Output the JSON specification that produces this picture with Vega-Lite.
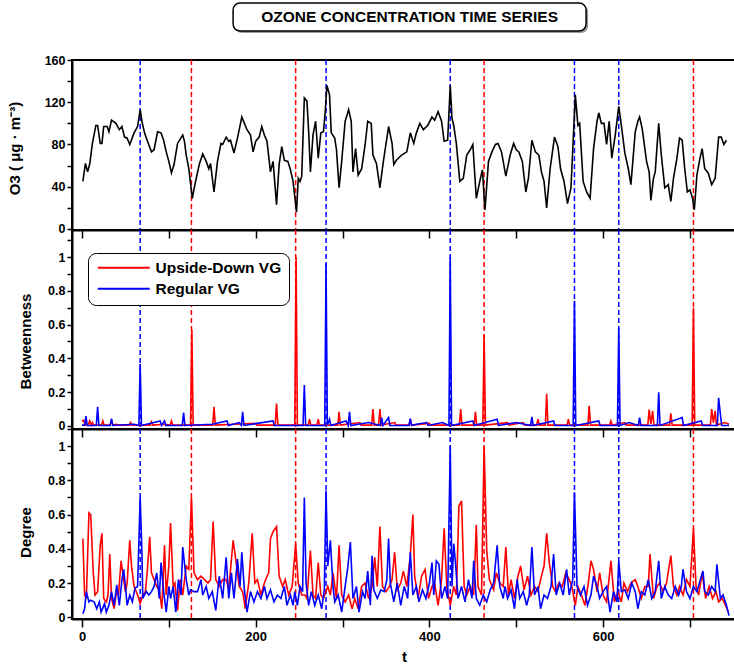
{
  "$schema": "https://vega.github.io/schema/vega-lite/v6.json",
  "padding": {"left": 6, "top": 2, "right": 0, "bottom": 0},
  "background": "white",
  "spacing": 0,
  "bounds": "flush",
  "datasets": {
    "titletext": [{"title": "OZONE CONCENTRATION TIME SERIES"}],
    "peaksBlue": [{"t": 67}, {"t": 281}, {"t": 424}, {"t": 567}, {"t": 618}],
    "peaksRed": [{"t": 126}, {"t": 246}, {"t": 463}, {"t": 704}],
    "o3": [
      {"t":1,"v":45},{"t":4,"v":62},{"t":6.5,"v":54},{"t":9,"v":62},{"t":12,"v":81},{"t":16,"v":98},{"t":18,"v":98},{"t":21,"v":81},{"t":23,"v":81},{"t":25,"v":97},{"t":29,"v":97},{"t":31,"v":92},{"t":34,"v":103},{"t":39,"v":100},{"t":43,"v":94},{"t":46,"v":97},{"t":49,"v":87},{"t":52,"v":86},{"t":55,"v":80},{"t":60,"v":91},{"t":64,"v":97},{"t":67,"v":113},{"t":69,"v":102},{"t":72,"v":91},{"t":75,"v":84},{"t":80,"v":73},{"t":83,"v":75},{"t":87,"v":92},{"t":91,"v":91},{"t":94,"v":84},{"t":97,"v":73},{"t":100,"v":64},{"t":103,"v":53},{"t":106,"v":61},{"t":110,"v":81},{"t":116,"v":89},{"t":118,"v":83},{"t":120,"v":70},{"t":123,"v":57},{"t":127,"v":29},{"t":130,"v":42},{"t":135,"v":61},{"t":139,"v":71},{"t":143,"v":64},{"t":146,"v":57},{"t":148,"v":62},{"t":152,"v":35},{"t":156,"v":64},{"t":160,"v":81},{"t":162,"v":80},{"t":166,"v":87},{"t":169,"v":83},{"t":171,"v":84},{"t":175,"v":72},{"t":179,"v":86},{"t":184,"v":106},{"t":187,"v":100},{"t":190,"v":94},{"t":194,"v":89},{"t":197,"v":73},{"t":200,"v":83},{"t":204,"v":87},{"t":207,"v":97},{"t":210,"v":89},{"t":213,"v":83},{"t":217,"v":54},{"t":220,"v":64},{"t":224,"v":23},{"t":227,"v":61},{"t":230,"v":78},{"t":233,"v":65},{"t":237,"v":64},{"t":240,"v":56},{"t":243,"v":45},{"t":247,"v":16},{"t":249,"v":48},{"t":251,"v":45},{"t":253,"v":50},{"t":256,"v":124},{"t":259,"v":121},{"t":261,"v":92},{"t":263,"v":54},{"t":266,"v":89},{"t":269,"v":102},{"t":272,"v":67},{"t":275,"v":91},{"t":278,"v":92},{"t":280,"v":110},{"t":282,"v":136},{"t":285,"v":127},{"t":287,"v":91},{"t":291,"v":86},{"t":293,"v":75},{"t":296,"v":39},{"t":299,"v":64},{"t":303,"v":102},{"t":307,"v":113},{"t":310,"v":102},{"t":312,"v":54},{"t":315,"v":76},{"t":318,"v":51},{"t":322,"v":57},{"t":326,"v":80},{"t":329,"v":102},{"t":333,"v":100},{"t":335,"v":70},{"t":339,"v":62},{"t":343,"v":39},{"t":347,"v":64},{"t":353,"v":97},{"t":357,"v":81},{"t":359,"v":61},{"t":362,"v":65},{"t":368,"v":70},{"t":374,"v":73},{"t":378,"v":91},{"t":382,"v":81},{"t":385,"v":91},{"t":389,"v":100},{"t":393,"v":94},{"t":398,"v":98},{"t":403,"v":106},{"t":406,"v":103},{"t":410,"v":111},{"t":414,"v":102},{"t":417,"v":83},{"t":421,"v":84},{"t":424,"v":136},{"t":426,"v":105},{"t":428,"v":98},{"t":431,"v":81},{"t":435,"v":45},{"t":439,"v":48},{"t":443,"v":70},{"t":447,"v":75},{"t":450,"v":80},{"t":454,"v":29},{"t":458,"v":45},{"t":461,"v":56},{"t":464,"v":18},{"t":468,"v":64},{"t":472,"v":73},{"t":476,"v":80},{"t":479,"v":81},{"t":483,"v":73},{"t":488,"v":50},{"t":493,"v":70},{"t":497,"v":81},{"t":500,"v":75},{"t":503,"v":73},{"t":507,"v":64},{"t":511,"v":35},{"t":514,"v":48},{"t":518,"v":84},{"t":522,"v":73},{"t":526,"v":70},{"t":529,"v":54},{"t":532,"v":45},{"t":535,"v":20},{"t":539,"v":57},{"t":544,"v":87},{"t":548,"v":78},{"t":551,"v":57},{"t":555,"v":45},{"t":559,"v":24},{"t":563,"v":39},{"t":568,"v":127},{"t":571,"v":98},{"t":573,"v":100},{"t":577,"v":45},{"t":581,"v":35},{"t":585,"v":29},{"t":589,"v":76},{"t":593,"v":102},{"t":595,"v":110},{"t":598,"v":100},{"t":601,"v":100},{"t":604,"v":80},{"t":607,"v":102},{"t":610,"v":67},{"t":614,"v":89},{"t":618,"v":116},{"t":621,"v":98},{"t":625,"v":72},{"t":629,"v":57},{"t":632,"v":42},{"t":637,"v":92},{"t":640,"v":102},{"t":642,"v":106},{"t":645,"v":95},{"t":650,"v":64},{"t":653,"v":54},{"t":655,"v":27},{"t":658,"v":48},{"t":660,"v":54},{"t":664,"v":100},{"t":667,"v":70},{"t":671,"v":39},{"t":675,"v":42},{"t":678,"v":26},{"t":681,"v":48},{"t":685,"v":67},{"t":688,"v":86},{"t":691,"v":84},{"t":694,"v":57},{"t":697,"v":35},{"t":700,"v":37},{"t":703,"v":29},{"t":705,"v":18},{"t":708,"v":51},{"t":711,"v":65},{"t":714,"v":76},{"t":717,"v":57},{"t":721,"v":53},{"t":725,"v":42},{"t":729,"v":48},{"t":733,"v":87},{"t":736,"v":87},{"t":739,"v":80},{"t":742,"v":84}
    ],
    "btwRed": [
      {"t":0,"v":0.03},{"t":2,"v":0.034},{"t":3.5,"v":0.005},{"t":5,"v":0.01},{"t":7,"v":0.005},{"t":9,"v":0.03},{"t":10.5,"v":0.005},{"t":12,"v":0.02},{"t":13.5,"v":0.005},{"t":22.5,"v":0.005},{"t":24,"v":0.03},{"t":25.5,"v":0.005},{"t":32.5,"v":0.005},{"t":34,"v":0.035},{"t":35.5,"v":0.005},{"t":40,"v":0.01},{"t":41.5,"v":0.005},{"t":54.5,"v":0.005},{"t":56,"v":0.02},{"t":57.5,"v":0.005},{"t":78.5,"v":0.005},{"t":80,"v":0.025},{"t":81.5,"v":0.005},{"t":95,"v":0.01},{"t":101.5,"v":0.005},{"t":103,"v":0.03},{"t":104.5,"v":0.005},{"t":125,"v":0.005},{"t":126.5,"v":0.57},{"t":128,"v":0.005},{"t":150.5,"v":0.005},{"t":152,"v":0.113},{"t":153.5,"v":0.005},{"t":175,"v":0.01},{"t":200,"v":0.015},{"t":201.5,"v":0.005},{"t":222.5,"v":0.005},{"t":224,"v":0.133},{"t":225.5,"v":0.005},{"t":245,"v":0.005},{"t":246.5,"v":1.0},{"t":248,"v":0.005},{"t":260.5,"v":0.005},{"t":262,"v":0.04},{"t":263.5,"v":0.005},{"t":270.5,"v":0.005},{"t":272,"v":0.04},{"t":273.5,"v":0.005},{"t":294.5,"v":0.005},{"t":296,"v":0.083},{"t":297.5,"v":0.005},{"t":320,"v":0.02},{"t":321.5,"v":0.005},{"t":333.5,"v":0.005},{"t":335,"v":0.1},{"t":336.5,"v":0.005},{"t":341.5,"v":0.005},{"t":343,"v":0.1},{"t":344.5,"v":0.005},{"t":360,"v":0.02},{"t":361.5,"v":0.005},{"t":376.5,"v":0.005},{"t":378,"v":0.04},{"t":379.5,"v":0.005},{"t":400,"v":0.015},{"t":401.5,"v":0.005},{"t":434.5,"v":0.005},{"t":436,"v":0.1},{"t":437.5,"v":0.005},{"t":451.5,"v":0.005},{"t":453,"v":0.083},{"t":454.5,"v":0.005},{"t":461.5,"v":0.005},{"t":463,"v":0.54},{"t":464.5,"v":0.005},{"t":490,"v":0.02},{"t":491.5,"v":0.005},{"t":508,"v":0.02},{"t":509.5,"v":0.005},{"t":523.5,"v":0.005},{"t":525,"v":0.04},{"t":526.5,"v":0.005},{"t":533.5,"v":0.005},{"t":535,"v":0.19},{"t":536.5,"v":0.005},{"t":558.5,"v":0.005},{"t":560,"v":0.04},{"t":561.5,"v":0.005},{"t":582.5,"v":0.005},{"t":584,"v":0.12},{"t":585.5,"v":0.005},{"t":607.5,"v":0.005},{"t":609,"v":0.03},{"t":610.5,"v":0.005},{"t":625,"v":0.02},{"t":626.5,"v":0.005},{"t":651.5,"v":0.005},{"t":653,"v":0.097},{"t":655,"v":0.01},{"t":657,"v":0.09},{"t":658.5,"v":0.005},{"t":676.5,"v":0.005},{"t":678,"v":0.075},{"t":679.5,"v":0.005},{"t":702.5,"v":0.005},{"t":704,"v":0.7},{"t":705.5,"v":0.005},{"t":723.5,"v":0.005},{"t":725,"v":0.1},{"t":727,"v":0.02},{"t":729,"v":0.09},{"t":730.5,"v":0.005},{"t":740,"v":0.02},{"t":745,"v":0.01}
    ],
    "btwBlue": [
      {"t":0,"v":0.005},{"t":3,"v":0.005},{"t":4.6,"v":0.058},{"t":6,"v":0.003},{"t":16.5,"v":0.003},{"t":18,"v":0.113},{"t":19.5,"v":0.003},{"t":32.5,"v":0.003},{"t":34,"v":0.044},{"t":35.5,"v":0.003},{"t":60,"v":0.01},{"t":65.5,"v":0.003},{"t":67,"v":0.367},{"t":68.5,"v":0.003},{"t":90,"v":0.03},{"t":91.5,"v":0.003},{"t":95,"v":0.03},{"t":96.5,"v":0.003},{"t":115.5,"v":0.003},{"t":117,"v":0.079},{"t":118.5,"v":0.003},{"t":150,"v":0.01},{"t":167,"v":0.03},{"t":168.5,"v":0.003},{"t":181,"v":0.02},{"t":183.5,"v":0.003},{"t":185,"v":0.083},{"t":186.5,"v":0.003},{"t":220,"v":0.03},{"t":221.5,"v":0.003},{"t":254.5,"v":0.003},{"t":256,"v":0.242},{"t":257.5,"v":0.003},{"t":279.5,"v":0.003},{"t":281,"v":0.96},{"t":282.5,"v":0.003},{"t":285,"v":0.04},{"t":286.5,"v":0.003},{"t":304,"v":0.03},{"t":306.5,"v":0.003},{"t":308,"v":0.083},{"t":309.5,"v":0.003},{"t":330,"v":0.02},{"t":343.5,"v":0.003},{"t":345,"v":0.05},{"t":346.5,"v":0.003},{"t":353,"v":0.05},{"t":354.5,"v":0.003},{"t":376.5,"v":0.003},{"t":378,"v":0.044},{"t":379.5,"v":0.003},{"t":385,"v":0.01},{"t":397,"v":0.02},{"t":398.5,"v":0.003},{"t":415,"v":0.02},{"t":422.5,"v":0.003},{"t":424,"v":1.0},{"t":425.5,"v":0.003},{"t":450,"v":0.03},{"t":451.5,"v":0.003},{"t":478,"v":0.04},{"t":479.5,"v":0.003},{"t":500,"v":0.02},{"t":516.5,"v":0.003},{"t":518,"v":0.054},{"t":519.5,"v":0.003},{"t":543,"v":0.03},{"t":544.5,"v":0.003},{"t":565.5,"v":0.003},{"t":567,"v":0.74},{"t":568.5,"v":0.003},{"t":595,"v":0.03},{"t":596.5,"v":0.003},{"t":616.5,"v":0.003},{"t":618,"v":0.58},{"t":619.5,"v":0.003},{"t":630,"v":0.02},{"t":640.5,"v":0.003},{"t":642,"v":0.05},{"t":643.5,"v":0.003},{"t":662.5,"v":0.003},{"t":664,"v":0.2},{"t":665.5,"v":0.003},{"t":691,"v":0.05},{"t":692.5,"v":0.003},{"t":713,"v":0.03},{"t":714.5,"v":0.003},{"t":731.5,"v":0.003},{"t":733,"v":0.167},{"t":735,"v":0.07},{"t":736.5,"v":0.003},{"t":745,"v":0.003}
    ],
    "degRed": [
      {"t":1,"v":0.46},{"t":3,"v":0.13},{"t":5,"v":0.11},{"t":8,"v":0.61},{"t":10,"v":0.6},{"t":13,"v":0.26},{"t":15,"v":0.13},{"t":18,"v":0.15},{"t":21,"v":0.42},{"t":23,"v":0.49},{"t":25,"v":0.11},{"t":28,"v":0.09},{"t":30,"v":0.13},{"t":32,"v":0.37},{"t":34,"v":0.11},{"t":37,"v":0.05},{"t":40,"v":0.16},{"t":42,"v":0.13},{"t":45,"v":0.33},{"t":48,"v":0.22},{"t":50,"v":0.15},{"t":52,"v":0.2},{"t":55,"v":0.45},{"t":57,"v":0.3},{"t":60,"v":0.18},{"t":64,"v":0.13},{"t":67,"v":0.08},{"t":70,"v":0.13},{"t":73,"v":0.15},{"t":75,"v":0.26},{"t":78,"v":0.47},{"t":80,"v":0.26},{"t":83,"v":0.22},{"t":86,"v":0.18},{"t":89,"v":0.16},{"t":92,"v":0.05},{"t":95,"v":0.42},{"t":97,"v":0.13},{"t":100,"v":0.3},{"t":102,"v":0.55},{"t":105,"v":0.18},{"t":107,"v":0.2},{"t":110,"v":0.04},{"t":113,"v":0.22},{"t":116,"v":0.13},{"t":120,"v":0.3},{"t":123,"v":0.28},{"t":126,"v":0.7},{"t":129,"v":0.26},{"t":133,"v":0.22},{"t":137,"v":0.24},{"t":141,"v":0.22},{"t":145,"v":0.2},{"t":148,"v":0.22},{"t":151,"v":0.56},{"t":154,"v":0.22},{"t":158,"v":0.18},{"t":162,"v":0.22},{"t":166,"v":0.22},{"t":169,"v":0.16},{"t":174,"v":0.45},{"t":177,"v":0.34},{"t":181,"v":0.18},{"t":185,"v":0.15},{"t":188,"v":0.05},{"t":192,"v":0.2},{"t":196,"v":0.49},{"t":199,"v":0.2},{"t":202,"v":0.22},{"t":206,"v":0.13},{"t":210,"v":0.2},{"t":213,"v":0.24},{"t":215,"v":0.26},{"t":217,"v":0.46},{"t":220,"v":0.5},{"t":224,"v":0.53},{"t":227,"v":0.24},{"t":231,"v":0.18},{"t":234,"v":0.22},{"t":238,"v":0.13},{"t":242,"v":0.18},{"t":246,"v":0.43},{"t":249,"v":0.2},{"t":253,"v":0.13},{"t":257,"v":0.13},{"t":259,"v":0.11},{"t":263,"v":0.39},{"t":266,"v":0.13},{"t":269,"v":0.11},{"t":272,"v":0.32},{"t":275,"v":0.13},{"t":278,"v":0.11},{"t":283,"v":0.18},{"t":286,"v":0.13},{"t":289,"v":0.26},{"t":293,"v":0.11},{"t":296,"v":0.42},{"t":299,"v":0.13},{"t":303,"v":0.09},{"t":307,"v":0.13},{"t":311,"v":0.05},{"t":314,"v":0.11},{"t":318,"v":0.05},{"t":322,"v":0.18},{"t":326,"v":0.2},{"t":330,"v":0.11},{"t":334,"v":0.18},{"t":337,"v":0.35},{"t":340,"v":0.18},{"t":343,"v":0.53},{"t":346,"v":0.18},{"t":350,"v":0.15},{"t":354,"v":0.18},{"t":357,"v":0.22},{"t":360,"v":0.38},{"t":363,"v":0.16},{"t":367,"v":0.2},{"t":370,"v":0.27},{"t":374,"v":0.18},{"t":378,"v":0.36},{"t":381,"v":0.6},{"t":383,"v":0.24},{"t":387,"v":0.11},{"t":391,"v":0.24},{"t":395,"v":0.28},{"t":399,"v":0.11},{"t":403,"v":0.18},{"t":406,"v":0.2},{"t":410,"v":0.07},{"t":414,"v":0.22},{"t":417,"v":0.52},{"t":420,"v":0.18},{"t":424,"v":0.07},{"t":428,"v":0.18},{"t":431,"v":0.13},{"t":434,"v":0.65},{"t":437,"v":0.68},{"t":440,"v":0.18},{"t":443,"v":0.13},{"t":447,"v":0.18},{"t":451,"v":0.13},{"t":454,"v":0.54},{"t":456,"v":0.18},{"t":460,"v":0.13},{"t":463,"v":1.0},{"t":466,"v":0.39},{"t":469,"v":0.22},{"t":474,"v":0.16},{"t":477,"v":0.26},{"t":481,"v":0.2},{"t":485,"v":0.18},{"t":488,"v":0.41},{"t":491,"v":0.13},{"t":494,"v":0.22},{"t":498,"v":0.11},{"t":502,"v":0.24},{"t":505,"v":0.3},{"t":509,"v":0.16},{"t":513,"v":0.24},{"t":517,"v":0.13},{"t":521,"v":0.18},{"t":525,"v":0.15},{"t":528,"v":0.22},{"t":532,"v":0.3},{"t":535,"v":0.49},{"t":538,"v":0.32},{"t":542,"v":0.18},{"t":545,"v":0.15},{"t":549,"v":0.2},{"t":553,"v":0.18},{"t":557,"v":0.26},{"t":561,"v":0.22},{"t":564,"v":0.18},{"t":568,"v":0.07},{"t":571,"v":0.18},{"t":575,"v":0.13},{"t":579,"v":0.07},{"t":583,"v":0.2},{"t":586,"v":0.33},{"t":589,"v":0.28},{"t":593,"v":0.15},{"t":596,"v":0.26},{"t":600,"v":0.13},{"t":604,"v":0.09},{"t":609,"v":0.33},{"t":613,"v":0.09},{"t":617,"v":0.15},{"t":621,"v":0.09},{"t":624,"v":0.2},{"t":628,"v":0.15},{"t":632,"v":0.2},{"t":637,"v":0.22},{"t":640,"v":0.18},{"t":644,"v":0.11},{"t":648,"v":0.18},{"t":652,"v":0.18},{"t":654,"v":0.37},{"t":658,"v":0.11},{"t":662,"v":0.18},{"t":665,"v":0.2},{"t":669,"v":0.15},{"t":673,"v":0.2},{"t":678,"v":0.36},{"t":681,"v":0.18},{"t":685,"v":0.13},{"t":688,"v":0.18},{"t":692,"v":0.13},{"t":696,"v":0.22},{"t":700,"v":0.18},{"t":704,"v":0.52},{"t":707,"v":0.18},{"t":710,"v":0.13},{"t":714,"v":0.26},{"t":718,"v":0.11},{"t":722,"v":0.18},{"t":726,"v":0.11},{"t":730,"v":0.15},{"t":733,"v":0.09},{"t":737,"v":0.11},{"t":741,"v":0.07},{"t":744,"v":0.03}
    ],
    "degBlue": [
      {"t":1,"v":0.02},{"t":3,"v":0.05},{"t":5,"v":0.15},{"t":8,"v":0.09},{"t":10,"v":0.1},{"t":14,"v":0.09},{"t":17,"v":0.05},{"t":20,"v":0.09},{"t":22,"v":0.03},{"t":26,"v":0.08},{"t":28,"v":0.03},{"t":31,"v":0.07},{"t":34,"v":0.15},{"t":37,"v":0.07},{"t":40,"v":0.19},{"t":43,"v":0.07},{"t":46,"v":0.22},{"t":48,"v":0.28},{"t":50,"v":0.18},{"t":52,"v":0.07},{"t":55,"v":0.13},{"t":58,"v":0.09},{"t":61,"v":0.17},{"t":64,"v":0.18},{"t":67,"v":0.7},{"t":69,"v":0.38},{"t":70,"v":0.11},{"t":74,"v":0.15},{"t":77,"v":0.13},{"t":80,"v":0.15},{"t":83,"v":0.18},{"t":86,"v":0.26},{"t":89,"v":0.11},{"t":91,"v":0.32},{"t":94,"v":0.15},{"t":97,"v":0.03},{"t":100,"v":0.18},{"t":102,"v":0.11},{"t":105,"v":0.18},{"t":108,"v":0.03},{"t":111,"v":0.22},{"t":114,"v":0.13},{"t":116,"v":0.41},{"t":120,"v":0.22},{"t":123,"v":0.13},{"t":125,"v":0.16},{"t":129,"v":0.15},{"t":133,"v":0.15},{"t":137,"v":0.22},{"t":139,"v":0.13},{"t":143,"v":0.18},{"t":146,"v":0.11},{"t":150,"v":0.15},{"t":154,"v":0.04},{"t":158,"v":0.24},{"t":162,"v":0.11},{"t":166,"v":0.35},{"t":169,"v":0.11},{"t":172,"v":0.26},{"t":175,"v":0.11},{"t":179,"v":0.34},{"t":182,"v":0.18},{"t":184,"v":0.38},{"t":187,"v":0.16},{"t":190,"v":0.03},{"t":194,"v":0.15},{"t":198,"v":0.09},{"t":202,"v":0.15},{"t":206,"v":0.11},{"t":210,"v":0.18},{"t":213,"v":0.11},{"t":217,"v":0.16},{"t":221,"v":0.09},{"t":225,"v":0.13},{"t":229,"v":0.11},{"t":233,"v":0.18},{"t":236,"v":0.07},{"t":240,"v":0.13},{"t":243,"v":0.07},{"t":245,"v":0.15},{"t":248,"v":0.07},{"t":251,"v":0.18},{"t":254,"v":0.15},{"t":256,"v":0.7},{"t":258,"v":0.2},{"t":261,"v":0.07},{"t":264,"v":0.15},{"t":268,"v":0.07},{"t":272,"v":0.13},{"t":276,"v":0.05},{"t":279,"v":0.16},{"t":281,"v":0.74},{"t":283,"v":0.3},{"t":286,"v":0.45},{"t":289,"v":0.18},{"t":291,"v":0.09},{"t":295,"v":0.13},{"t":299,"v":0.03},{"t":303,"v":0.18},{"t":306,"v":0.29},{"t":309,"v":0.44},{"t":312,"v":0.11},{"t":316,"v":0.18},{"t":319,"v":0.03},{"t":323,"v":0.15},{"t":326,"v":0.11},{"t":329,"v":0.27},{"t":332,"v":0.07},{"t":334,"v":0.36},{"t":336,"v":0.16},{"t":340,"v":0.11},{"t":344,"v":0.16},{"t":348,"v":0.15},{"t":351,"v":0.22},{"t":353,"v":0.46},{"t":355,"v":0.2},{"t":359,"v":0.09},{"t":363,"v":0.2},{"t":367,"v":0.07},{"t":371,"v":0.18},{"t":375,"v":0.11},{"t":378,"v":0.38},{"t":381,"v":0.13},{"t":385,"v":0.18},{"t":388,"v":0.09},{"t":392,"v":0.16},{"t":396,"v":0.11},{"t":400,"v":0.2},{"t":403,"v":0.32},{"t":405,"v":0.13},{"t":408,"v":0.33},{"t":411,"v":0.31},{"t":414,"v":0.11},{"t":418,"v":0.18},{"t":421,"v":0.11},{"t":424,"v":1.0},{"t":426,"v":0.18},{"t":428,"v":0.43},{"t":430,"v":0.32},{"t":433,"v":0.11},{"t":437,"v":0.18},{"t":441,"v":0.09},{"t":445,"v":0.22},{"t":449,"v":0.11},{"t":451,"v":0.33},{"t":454,"v":0.11},{"t":458,"v":0.07},{"t":462,"v":0.13},{"t":466,"v":0.09},{"t":470,"v":0.16},{"t":474,"v":0.2},{"t":478,"v":0.42},{"t":481,"v":0.18},{"t":485,"v":0.11},{"t":487,"v":0.18},{"t":490,"v":0.11},{"t":494,"v":0.16},{"t":498,"v":0.05},{"t":501,"v":0.22},{"t":504,"v":0.11},{"t":508,"v":0.15},{"t":512,"v":0.07},{"t":515,"v":0.13},{"t":518,"v":0.41},{"t":521,"v":0.13},{"t":525,"v":0.18},{"t":528,"v":0.05},{"t":532,"v":0.13},{"t":536,"v":0.11},{"t":540,"v":0.18},{"t":543,"v":0.37},{"t":546,"v":0.13},{"t":550,"v":0.2},{"t":554,"v":0.13},{"t":558,"v":0.28},{"t":561,"v":0.13},{"t":565,"v":0.22},{"t":567,"v":0.73},{"t":570,"v":0.18},{"t":574,"v":0.13},{"t":578,"v":0.18},{"t":582,"v":0.07},{"t":586,"v":0.13},{"t":589,"v":0.24},{"t":593,"v":0.18},{"t":596,"v":0.11},{"t":600,"v":0.15},{"t":604,"v":0.18},{"t":608,"v":0.03},{"t":612,"v":0.15},{"t":616,"v":0.09},{"t":618,"v":0.33},{"t":621,"v":0.15},{"t":625,"v":0.16},{"t":629,"v":0.11},{"t":633,"v":0.2},{"t":637,"v":0.15},{"t":640,"v":0.05},{"t":644,"v":0.15},{"t":648,"v":0.13},{"t":652,"v":0.22},{"t":656,"v":0.11},{"t":660,"v":0.15},{"t":664,"v":0.33},{"t":667,"v":0.11},{"t":671,"v":0.18},{"t":675,"v":0.13},{"t":679,"v":0.11},{"t":683,"v":0.18},{"t":687,"v":0.13},{"t":690,"v":0.18},{"t":692,"v":0.28},{"t":696,"v":0.15},{"t":700,"v":0.11},{"t":704,"v":0.18},{"t":708,"v":0.15},{"t":712,"v":0.22},{"t":715,"v":0.27},{"t":717,"v":0.15},{"t":721,"v":0.13},{"t":725,"v":0.18},{"t":729,"v":0.15},{"t":731,"v":0.31},{"t":735,"v":0.11},{"t":738,"v":0.13},{"t":742,"v":0.07},{"t":745,"v":0.01}
    ]
  },
  "vconcat": [
    {
      "width": 664,
      "height": 57,
      "view": {"stroke": null},
      "data": {"name": "titletext"},
      "layer": [
        {
          "mark": {"type": "rect", "fill": "#9a9a9a", "xOffset": 2, "yOffset": 2, "cornerRadius": 7},
          "encoding": {
            "x": {"field": "title", "type": "nominal", "axis": null, "scale": {"paddingInner": 0, "paddingOuter": 0.4405, "align": 0.518}},
            "y": {"field": "title", "type": "nominal", "axis": null, "scale": {"paddingInner": 0, "paddingOuter": 0.518, "align": 0}}
          }
        },
        {
          "mark": {"type": "rect", "fill": "white", "stroke": "black", "strokeWidth": 1.5, "cornerRadius": 7},
          "encoding": {
            "x": {"field": "title", "type": "nominal", "axis": null},
            "y": {"field": "title", "type": "nominal", "axis": null}
          }
        },
        {
          "mark": {"type": "text", "font": "Liberation Sans", "fontWeight": "bold", "fontSize": 15.5, "color": "black", "baseline": "middle", "align": "center"},
          "encoding": {
            "x": {"field": "title", "type": "nominal", "axis": null},
            "y": {"field": "title", "type": "nominal", "axis": null},
            "text": {"field": "title"}
          }
        }
      ]
    },
    {
      "width": 664,
      "height": 170,
      "encoding": {
        "x": {"field": "t", "type": "quantitative", "scale": {"domain": [-11.5, 753], "nice": false, "zero": false},
              "axis": {"values": [0, 100, 200, 300, 400, 500, 600, 700], "labels": false, "title": null, "tickSize": 8}},
        "y": {"field": "v", "type": "quantitative", "scale": {"domain": [-1, 160], "nice": false, "zero": false},
              "axis": {"values": [0, 20, 40, 60, 80, 100, 120, 140, 160], "labelExpr": "datum.value % 40 === 0 ? datum.label : ''", "labelOverlap": false, "tickSize": 5, "title": "O3 ( μg · m⁻³)", "titleX": -58, "titleY": 88, "titleBaseline": "middle"}}
      },
      "layer": [
        {"data": {"name": "peaksBlue"}, "mark": {"type": "rule", "strokeDash": [5, 3], "strokeWidth": 1.5, "color": "#0000ff"}, "encoding": {"y": null}},
        {"data": {"name": "peaksRed"}, "mark": {"type": "rule", "strokeDash": [5, 3], "strokeWidth": 1.5, "color": "#ff0000"}, "encoding": {"y": null}},
        {"data": {"name": "o3"}, "mark": {"type": "line", "color": "black", "strokeWidth": 1.6}},
        {
          "mark": {"type": "text", "text": "a)", "font": "Liberation Sans", "fontWeight": "bold", "fontSize": 19, "color": "black", "align": "center", "baseline": "middle"},
          "encoding": {"x": {"datum": 727, "type": "quantitative"}, "y": {"datum": 131, "type": "quantitative"}}
        }
      ]
    },
    {
      "width": 664,
      "height": 199,
      "encoding": {
        "x": {"field": "t", "type": "quantitative", "scale": {"domain": [-11.5, 753], "nice": false, "zero": false},
              "axis": {"values": [0, 100, 200, 300, 400, 500, 600, 700], "labels": false, "title": null, "tickSize": 8}},
        "y": {"field": "v", "type": "quantitative", "scale": {"domain": [-0.018, 1.16], "nice": false, "zero": false},
              "axis": {"values": [0, 0.1, 0.2, 0.3, 0.4, 0.5, 0.6, 0.7, 0.8, 0.9, 1, 1.1], "format": "~g", "labelOverlap": false, "labelExpr": "(round(datum.value * 10) % 2 === 0 && datum.value < 1.05) ? datum.label : ''", "tickSize": 5, "title": "Betweenness", "titleX": -46.5, "titleY": 111, "titleBaseline": "middle"}}
      },
      "layer": [
        {"data": {"name": "peaksBlue"}, "mark": {"type": "rule", "strokeDash": [5, 3], "strokeWidth": 1.5, "color": "#0000ff"}, "encoding": {"y": null}},
        {"data": {"name": "peaksRed"}, "mark": {"type": "rule", "strokeDash": [5, 3], "strokeWidth": 1.5, "color": "#ff0000"}, "encoding": {"y": null}},
        {
          "data": {"name": "btwRed"},
          "mark": {"type": "line", "strokeWidth": 1.6},
          "encoding": {
            "color": {"datum": "Upside-Down VG", "type": "nominal",
                      "scale": {"domain": ["Upside-Down VG", "Regular VG"], "range": ["#ff0000", "#0000ff"]},
                      "legend": {"orient": "none", "legendX": 16, "legendY": 250, "title": null, "direction": "vertical",
                                 "symbolType": "M-1,0H9.4", "symbolSize": 100, "symbolStrokeWidth": 2, "labelOffset": 45,
                                 "labelFont": "Liberation Sans", "labelFontWeight": "bold", "labelFontSize": 15.5, "labelColor": "black", "labelLimit": 300,
                                 "strokeColor": "black", "fillColor": "white", "cornerRadius": 8, "padding": 7, "rowPadding": 4}}
          }
        },
        {
          "data": {"name": "btwBlue"},
          "mark": {"type": "line", "strokeWidth": 1.6},
          "encoding": {"color": {"datum": "Regular VG", "type": "nominal"}}
        },
        {
          "mark": {"type": "text", "text": "b)", "font": "Liberation Sans", "fontWeight": "bold", "fontSize": 19, "color": "black", "align": "center", "baseline": "middle"},
          "encoding": {"x": {"datum": 727, "type": "quantitative"}, "y": {"datum": 0.97, "type": "quantitative"}}
        }
      ]
    },
    {
      "width": 664,
      "height": 190,
      "encoding": {
        "x": {"field": "t", "type": "quantitative", "scale": {"domain": [-11.5, 753], "nice": false, "zero": false},
              "axis": {"values": [0, 100, 200, 300, 400, 500, 600, 700], "labelExpr": "datum.value % 200 === 0 ? datum.label : ''", "labelOverlap": false, "title": "t", "tickSize": 8, "labelPadding": 3, "labelFontSize": 13, "titlePadding": 6}},
        "y": {"field": "v", "type": "quantitative", "scale": {"domain": [-0.01, 1.1], "nice": false, "zero": false},
              "axis": {"values": [0, 0.1, 0.2, 0.3, 0.4, 0.5, 0.6, 0.7, 0.8, 0.9, 1, 1.1], "format": "~g", "labelOverlap": false, "labelExpr": "(round(datum.value * 10) % 2 === 0 && datum.value < 1.05) ? datum.label : ''", "tickSize": 5, "title": "Degree", "titleX": -46.5, "titleY": 103, "titleBaseline": "middle"}}
      },
      "layer": [
        {"data": {"name": "peaksBlue"}, "mark": {"type": "rule", "strokeDash": [5, 3], "strokeWidth": 1.5, "color": "#0000ff"}, "encoding": {"y": null}},
        {"data": {"name": "peaksRed"}, "mark": {"type": "rule", "strokeDash": [5, 3], "strokeWidth": 1.5, "color": "#ff0000"}, "encoding": {"y": null}},
        {"data": {"name": "degRed"}, "mark": {"type": "line", "strokeWidth": 1.6, "color": "#ff0000"}},
        {"data": {"name": "degBlue"}, "mark": {"type": "line", "strokeWidth": 1.6, "color": "#0000ff"}},
        {
          "mark": {"type": "text", "text": "c)", "font": "Liberation Sans", "fontWeight": "bold", "fontSize": 19, "color": "black", "align": "center", "baseline": "middle"},
          "encoding": {"x": {"datum": 727, "type": "quantitative"}, "y": {"datum": 0.92, "type": "quantitative"}}
        }
      ]
    }
  ],
  "config": {
    "font": "Liberation Sans",
    "view": {"stroke": "black", "strokeWidth": 2},
    "axis": {"domainColor": "black", "domainWidth": 2, "tickColor": "black", "tickWidth": 1.5, "labelColor": "black", "labelFont": "Liberation Sans", "labelFontWeight": "bold", "labelFontSize": 12.5, "titleColor": "black", "titleFont": "Liberation Sans", "titleFontWeight": "bold", "titleFontSize": 15, "grid": false, "labelFlush": false}
  }
}
